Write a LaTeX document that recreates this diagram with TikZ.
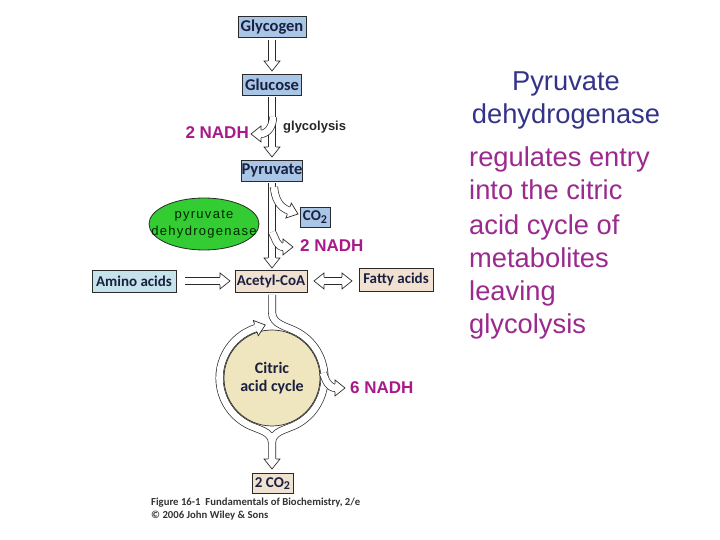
\documentclass[tikz,border=0pt]{standalone}
\usepackage{fontspec}
\setmainfont{Liberation Sans}
\newfontfamily\carl{Carlito}
\newfontfamily\spaced[LetterSpace=10]{Liberation Sans}
\usetikzlibrary{calc}
\definecolor{boxblue}{HTML}{A9C6E6}
\definecolor{boxcyan}{HTML}{C6E2EA}
\definecolor{boxbeige}{HTML}{F1E1D1}
\definecolor{cyclefill}{HTML}{EFE5BF}
\definecolor{pdhgreen}{HTML}{33CC33}
\definecolor{nadh}{HTML}{A8198A}
\definecolor{navy}{HTML}{333388}
\definecolor{purp}{HTML}{9B2A8E}
\definecolor{linec}{HTML}{2A2A2A}
\definecolor{boxtext}{HTML}{1A2040}
\newcommand\subtwo{\raisebox{-0.3ex}{\fontsize{12}{13}\selectfont 2}}
\tikzset{
 bx/.style={draw=linec, line width=0.8pt, inner sep=0pt, font=\carl\bfseries\fontsize{16.5}{19}\selectfont, text=boxtext},
 bxs/.style={bx, font=\carl\bfseries\fontsize{15}{18}\selectfont},
 shaft/.style={draw=linec, line width=0.7pt, double=white, double distance=6.6pt},
 headst/.style={fill=white, draw=linec, line width=0.7pt, line join=miter},
 nadhst/.style={text=nadh, inner sep=0pt, font=\bfseries\fontsize{17}{20}\selectfont},
 rtxt/.style={inner sep=0pt, font=\fontsize{27.3}{32}\selectfont},
 captxt/.style={inner sep=0pt, anchor=base west, text=black!80, font=\carl\bfseries\fontsize{10.7}{12}\selectfont},
}
\newcommand\hhead[2]{\filldraw[headst, shift={(#1)}, rotate=#2] (-10,4) -- (-10,8) -- (0,0) -- (-10,-8) -- (-10,-4);}
\begin{document}
\begin{tikzpicture}[x=1pt,y=1pt]
\useasboundingbox (0,0) rectangle (720,540);
\fill[white] (0,0) rectangle (720,540);

% boxes
\node[bx, fill=boxblue, minimum width=68pt, minimum height=21pt] (glycogen) at (272,513) {Glycogen};
\node[bx, fill=boxblue, minimum width=59pt, minimum height=21pt] (glucose) at (272,455.5) {Glucose};
\node[bx, fill=boxblue, minimum width=61pt, minimum height=21pt] (pyruvate) at (272,369.5) {Pyruvate};
\node[bxs, fill=boxblue, minimum width=30pt, minimum height=20pt] (co2) at (315,323) {CO\subtwo};
\node[bxs, fill=boxcyan, minimum width=84pt, minimum height=22pt] (amino) at (134,259) {Amino acids};
\node[bxs, fill=boxbeige, minimum width=72pt, minimum height=22pt] (acetyl) at (271,259) {Acetyl-CoA};
\node[bxs, fill=boxbeige, minimum width=74pt, minimum height=23pt] (fatty) at (396,260.5) {Fatty acids};
\node[bxs, fill=boxbeige, minimum width=41pt, minimum height=20pt] (co2b) at (272.5,56.5) {2 CO\subtwo};

% pyruvate dehydrogenase ellipse
\filldraw[draw=linec, line width=0.8pt, fill=pdhgreen] (204,316) ellipse[x radius=55, y radius=26];
\node[inner sep=0pt, align=center, text=black!85!green, font=\spaced\fontsize{13}{17}\selectfont] (pdh) at (204,316) {pyruvate\\dehydrogenase};

% labels
\node[nadhst, anchor=east] (nadh1) at (249,407) {2 NADH};
\node[inner sep=0pt, anchor=west, text=black!85, font=\bfseries\fontsize{13}{16}\selectfont] (glyc) at (283,413) {glycolysis};
\node[nadhst, anchor=west] (nadh2) at (300,294) {2 NADH};
\node[nadhst, anchor=west] (nadh3) at (350,152) {6 NADH};

% arrow head coordinates
\coordinate (h1) at (272,469);
\coordinate (h2) at (272,383);
\coordinate (h3) at (272,272);
\coordinate (h4) at (230,259);
\coordinate (h5a) at (314,259);
\coordinate (h5b) at (352,259);
\coordinate (h6) at (272,71);
\coordinate (hg) at (251,406);
\coordinate (hc) at (298,326);
\coordinate (hn) at (293,293);
\coordinate (h6n) at (345,152);

% Glycogen -> Glucose
\draw[shaft] ([yshift=-2pt]glycogen.south) -- ([yshift=9pt]h1);
\hhead{h1}{-90}
% Glucose -> Pyruvate
\draw[shaft] ([yshift=-2pt]glucose.south) -- ([yshift=9pt]h2);
\hhead{h2}{-90}
% glycolysis branch
\draw[shaft] (273,423) to[out=-90,in=0] ([xshift=9pt]hg);
\hhead{hg}{180}
% Pyruvate -> Acetyl-CoA
\draw[shaft] ([yshift=-2pt]pyruvate.south) -- ([yshift=9pt]h3);
\hhead{h3}{-90}
% CO2 branch
\draw[shaft] (274,353) to[out=-85,in=160] ($(hc)+(160:9.5)$);
\hhead{hc}{-20}
% 2 NADH branch
\draw[shaft] (272,308) to[out=-60,in=180] ([xshift=-9pt]hn);
\hhead{hn}{0}
% Amino -> Acetyl
\draw[shaft] ([xshift=9pt]amino.east) -- ([xshift=-9pt]h4);
\hhead{h4}{0}
% Acetyl <-> Fatty
\draw[shaft] ([xshift=9pt]h5a) -- ([xshift=-9pt]h5b);
\hhead{h5a}{180}
\hhead{h5b}{0}

% citric acid cycle
\coordinate (C) at (272,162);
\filldraw[fill=cyclefill, draw=linec, line width=0.7pt] (C) circle[radius=48];
\node[inner sep=0pt, align=center, text=boxtext, font=\carl\bfseries\fontsize{16}{18}\selectfont] (cyc) at (C) {Citric\\acid cycle};
\draw[linec, line width=8pt, postaction={draw, white, line width=6.6pt}]
  (272,97) to[out=90,in=-28] ($(C)+(242:52.5)$) arc[start angle=242, end angle=108, radius=52.5]
  (272,245) -- (272,228) to[out=-90,in=150] ($(C)+(60:52.5)$) arc[start angle=60, end angle=-62, radius=52.5] to[out=-152,in=90] (272,97) -- (272,80);
\coordinate (hL) at ($(C)+(108:52.5)+(18:10)$);
\hhead{hL}{18}
\hhead{h6}{-90}
% 6 NADH branch
\draw[shaft] (323,167) to[out=-70,in=180] ([xshift=-9pt]h6n);
\hhead{h6n}{0}

% caption
\node[captxt] (cap1) at (151,34) {Figure 16-1\ \ Fundamentals of Biochemistry, 2/e};
\node[captxt] (cap2) at (151,21) {\textcopyright\ 2006 John Wiley \& Sons};

% right text
\node[rtxt, anchor=base, text=navy] (t1) at (566,449) {Pyruvate};
\node[rtxt, anchor=base, text=navy] (t2) at (566,416.5) {dehydrogenase};
\node[rtxt, anchor=base west, text=purp] (r1) at (469,373.3) {regulates entry};
\node[rtxt, anchor=base west, text=purp] (r2) at (469,340) {into the citric};
\node[rtxt, anchor=base west, text=purp] (r3) at (469,305.7) {acid cycle of};
\node[rtxt, anchor=base west, text=purp] (r4) at (469,272.7) {metabolites};
\node[rtxt, anchor=base west, text=purp] (r5) at (469,239.3) {leaving};
\node[rtxt, anchor=base west, text=purp] (r6) at (469,206) {glycolysis};
\end{tikzpicture}
\end{document}
